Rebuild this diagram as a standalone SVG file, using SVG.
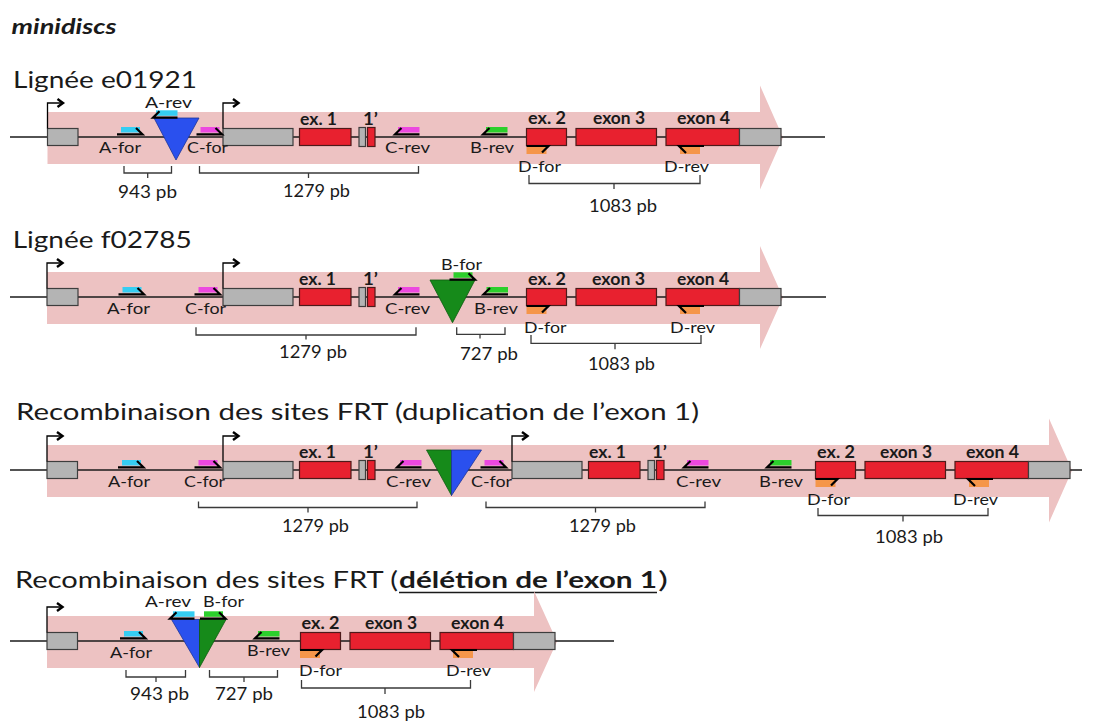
<svg xmlns="http://www.w3.org/2000/svg" xmlns:xlink="http://www.w3.org/1999/xlink" width="1108" height="722" viewBox="0 0 1108 722">
<style>
.bg{fill:#ffffff}
.band{fill:#edc2c2}
.dna{stroke:#1a1a1a;stroke-width:1.3}
.g{fill:#b4b4b4;stroke:#3d3d3d;stroke-width:1.2}
.r{fill:#e8212f;stroke:#4d1a1a;stroke-width:1.2}
.pl{fill:none;stroke:#000;stroke-width:2.2}
.prom{fill:none;stroke:#000;stroke-width:1.3}
.chev{fill:none;stroke:#000;stroke-width:2.4}
.br{fill:none;stroke:#3a3a3a;stroke-width:1.3}
.tb{fill:#2a50ee;stroke:#1d3598;stroke-width:0.8}
.tg{fill:#168a1a;stroke:#0d5a10;stroke-width:0.8}
text{font-family:Lato,"Open Sans","Liberation Sans",sans-serif;fill:#1a1a1a}
.title{font-size:22.5px}
.lab{font-size:15.5px}
.ex{font-size:16.5px;font-weight:bold}
.bp{font-size:16.5px}
.ul{stroke:#1a1a1a;stroke-width:1.6}
</style>
<defs>
<g id="pfu"><rect x="4" y="-10" width="19" height="5.5"/><polyline class="pl" points="0,-2.7 25.5,-2.7 19,-9"/></g>
<g id="pru"><rect x="3" y="-10" width="21.5" height="5.5"/><polyline class="pl" points="6.5,-9 0,-2.7 24.5,-2.7"/></g>
<g id="pfd"><rect x="0" y="10" width="20" height="7"/><polyline class="pl" points="0,9 22,9 15.5,15.5"/></g>
<g id="prd"><rect x="1" y="10" width="20" height="7"/><polyline class="pl" points="7,16 0,9 25,9"/></g>
<g id="prom"><polyline class="prom" points="0,-8.5 0,-34 15,-34"/><polyline class="chev" points="10,-38 15.5,-34 10,-30"/></g>
</defs>
<rect class="bg" x="0" y="0" width="1108" height="722"/>
<text x="11.5" y="34" style="font-size:20.5px;font-weight:bold;font-style:italic" textLength="105" lengthAdjust="spacingAndGlyphs">minidiscs</text>

<!-- Panel 1 -->
<g id="panel1">
<text class="title" x="13" y="88" textLength="184" lengthAdjust="spacingAndGlyphs">Lignée e01921</text>
<polygon class="band" points="47.5,112 760,112 760,85.5 783,137.5 760,189.5 760,164 47.5,164"/>
<line class="dna" x1="10" y1="137" x2="825" y2="137"/>
<g id="p1-genes">
<rect class="g" x="47.5" y="128.5" width="30.5" height="17"/>
<rect class="g" x="223" y="128.5" width="70" height="17"/>
<rect class="r" x="299.5" y="128.5" width="51.5" height="17"/>
<rect class="g" x="359" y="127.5" width="6.5" height="19"/>
<rect class="r" x="367.5" y="127.5" width="7.5" height="19"/>
<rect class="r" x="526.5" y="128.5" width="40" height="17"/>
<rect class="r" x="576" y="128.5" width="80.5" height="17"/>
<rect class="r" x="666" y="128.5" width="73.5" height="17"/>
<rect class="g" x="739.5" y="128.5" width="41.5" height="17"/>
</g>
<g id="p1-prom"><use href="#prom" x="47.5" y="137"/><use href="#prom" x="223" y="137"/></g>
<polygon id="p1-frt" class="tb" points="154,118 199,118 176,160"/>
<g id="p1-primers">
<use href="#pfu" x="117" y="137" fill="#35cdf2"/>
<use href="#pru" x="153" y="120.3" fill="#35cdf2"/>
<use href="#pfu" x="196.5" y="137" fill="#ec48e0"/>
<use href="#pru" x="395" y="137" fill="#ec48e0"/>
<use href="#pru" x="483" y="137" fill="#2ccf2c"/>
<use href="#pfd" x="526.5" y="137" fill="#f5964a"/>
<use href="#prd" x="679" y="137" fill="#f5964a"/>
</g>
<g id="p1-brackets">
<path class="br" d="M124,166 V173 H171.5 V166 M147.7,173 V178"/>
<path class="br" d="M199.5,166 V173 H418.5 V166 M308.5,173 V178"/>
<path class="br" d="M529,175 V183.5 H700 V175 M614,183.5 V189"/>
</g>
<g id="p1-labels">
<text class="lab" x="145" y="107.5" textLength="47" lengthAdjust="spacingAndGlyphs">A-rev</text>
<text class="lab" x="99" y="153" textLength="42" lengthAdjust="spacingAndGlyphs">A-for</text>
<text class="lab" x="187" y="153" textLength="41" lengthAdjust="spacingAndGlyphs">C-for</text>
<text class="ex" x="300" y="125" textLength="37" lengthAdjust="spacingAndGlyphs">ex. 1</text>
<text class="ex" x="363" y="125" textLength="15" lengthAdjust="spacingAndGlyphs">1’</text>
<text class="lab" x="385" y="153" textLength="45" lengthAdjust="spacingAndGlyphs">C-rev</text>
<text class="lab" x="470" y="153" textLength="44" lengthAdjust="spacingAndGlyphs">B-rev</text>
<text class="ex" x="528" y="124" textLength="38" lengthAdjust="spacingAndGlyphs">ex. 2</text>
<text class="ex" x="593" y="124" textLength="52" lengthAdjust="spacingAndGlyphs">exon 3</text>
<text class="ex" x="677" y="124" textLength="53" lengthAdjust="spacingAndGlyphs">exon 4</text>
<text class="lab" x="518" y="171.5" textLength="43" lengthAdjust="spacingAndGlyphs">D-for</text>
<text class="lab" x="664" y="171.5" textLength="45" lengthAdjust="spacingAndGlyphs">D-rev</text>
<text class="bp" x="118" y="198" textLength="59" lengthAdjust="spacingAndGlyphs">943 pb</text>
<text class="bp" x="283" y="197" textLength="67" lengthAdjust="spacingAndGlyphs">1279 pb</text>
<text class="bp" x="589" y="212" textLength="68" lengthAdjust="spacingAndGlyphs">1083 pb</text>
</g>
</g>

<!-- Panel 2 -->
<g id="panel2">
<text class="title" x="12.7" y="248.3" textLength="179" lengthAdjust="spacingAndGlyphs">Lignée f02785</text>
<polygon class="band" points="47,272 760,272 760,246 783,297.5 760,349 760,324 47,324"/>
<line class="dna" x1="10" y1="297" x2="826" y2="297"/>
<g id="p2-genes">
<rect class="g" x="47" y="288.5" width="31" height="17"/>
<rect class="g" x="223" y="288.5" width="70" height="17"/>
<rect class="r" x="299.5" y="288.5" width="51.5" height="17"/>
<rect class="g" x="359" y="287.5" width="6.5" height="19"/>
<rect class="r" x="367.5" y="287.5" width="7.5" height="19"/>
<rect class="r" x="526.5" y="288.5" width="40" height="17"/>
<rect class="r" x="576" y="288.5" width="80.5" height="17"/>
<rect class="r" x="666" y="288.5" width="73.5" height="17"/>
<rect class="g" x="739.5" y="288.5" width="41.5" height="17"/>
</g>
<g id="p2-prom"><use href="#prom" x="47" y="297"/><use href="#prom" x="223" y="297"/></g>
<polygon id="p2-frt" class="tg" points="430,280 475,280 452.5,322.7"/>
<g id="p2-primers">
<use href="#pfu" x="118.5" y="297" fill="#35cdf2"/>
<use href="#pfu" x="194.5" y="297" fill="#ec48e0"/>
<use href="#pru" x="395" y="297" fill="#ec48e0"/>
<use href="#pfu" x="449.5" y="282.3" fill="#2ccf2c"/>
<use href="#pru" x="483.5" y="297" fill="#2ccf2c"/>
<use href="#pfd" x="526.5" y="297" fill="#f5964a"/>
<use href="#prd" x="679" y="297" fill="#f5964a"/>
</g>
<g id="p2-brackets">
<path class="br" d="M196,327.3 V335 H416 V327.3 M306,335 V339.5"/>
<path class="br" d="M456.7,327.3 V334.3 H505 V327.3 M480,334.3 V338.5"/>
<path class="br" d="M531,335 V343.3 H701 V335 M615,343.3 V349.3"/>
</g>
<g id="p2-labels">
<text class="lab" x="107" y="314" textLength="43" lengthAdjust="spacingAndGlyphs">A-for</text>
<text class="lab" x="185" y="314" textLength="41" lengthAdjust="spacingAndGlyphs">C-for</text>
<text class="ex" x="299" y="284.5" textLength="37" lengthAdjust="spacingAndGlyphs">ex. 1</text>
<text class="ex" x="363" y="284.5" textLength="15" lengthAdjust="spacingAndGlyphs">1’</text>
<text class="lab" x="385" y="314" textLength="45" lengthAdjust="spacingAndGlyphs">C-rev</text>
<text class="lab" x="441" y="270" textLength="41" lengthAdjust="spacingAndGlyphs">B-for</text>
<text class="lab" x="474" y="314" textLength="44" lengthAdjust="spacingAndGlyphs">B-rev</text>
<text class="ex" x="528" y="285" textLength="38" lengthAdjust="spacingAndGlyphs">ex. 2</text>
<text class="ex" x="592" y="285" textLength="53" lengthAdjust="spacingAndGlyphs">exon 3</text>
<text class="ex" x="677" y="285" textLength="52" lengthAdjust="spacingAndGlyphs">exon 4</text>
<text class="lab" x="524" y="332.5" textLength="42.5" lengthAdjust="spacingAndGlyphs">D-for</text>
<text class="lab" x="670" y="332.5" textLength="45" lengthAdjust="spacingAndGlyphs">D-rev</text>
<text class="bp" x="279" y="358" textLength="68" lengthAdjust="spacingAndGlyphs">1279 pb</text>
<text class="bp" x="460" y="360" textLength="58" lengthAdjust="spacingAndGlyphs">727 pb</text>
<text class="bp" x="588" y="370" textLength="67" lengthAdjust="spacingAndGlyphs">1083 pb</text>
</g>
</g>

<!-- Panel 3 -->
<g id="panel3">
<text class="title" x="16" y="420" textLength="683" lengthAdjust="spacingAndGlyphs">Recombinaison des sites FRT (duplication de l’exon 1)</text>
<polygon class="band" points="47,445 1049,445 1049,418.5 1072,470.5 1049,522.5 1049,497 47,497"/>
<line class="dna" x1="10" y1="470" x2="1082" y2="470"/>
<g id="p3-genes">
<rect class="g" x="47" y="461.5" width="30.5" height="17"/>
<rect class="g" x="223" y="461.5" width="70" height="17"/>
<rect class="r" x="299.5" y="461.5" width="51.5" height="17"/>
<rect class="g" x="359" y="460.5" width="6.5" height="19"/>
<rect class="r" x="367.5" y="460.5" width="7.5" height="19"/>
<rect class="g" x="512" y="461.5" width="70" height="17"/>
<rect class="r" x="588.5" y="461.5" width="51.5" height="17"/>
<rect class="g" x="648" y="460.5" width="6.5" height="19"/>
<rect class="r" x="656.5" y="460.5" width="7.5" height="19"/>
<rect class="r" x="815.5" y="461.5" width="40" height="17"/>
<rect class="r" x="865" y="461.5" width="80.5" height="17"/>
<rect class="r" x="955" y="461.5" width="73.5" height="17"/>
<rect class="g" x="1028.5" y="461.5" width="41.5" height="17"/>
</g>
<g id="p3-prom"><use href="#prom" x="47" y="470"/><use href="#prom" x="223" y="470"/><use href="#prom" x="512" y="470"/></g>
<g id="p3-frt">
<polygon class="tg" points="426.5,450 451.5,450 451.5,495.5"/>
<polygon class="tb" points="451.5,450 481.5,450 451.5,495.5"/>
</g>
<g id="p3-primers">
<use href="#pfu" x="118" y="470" fill="#35cdf2"/>
<use href="#pfu" x="194.5" y="470" fill="#ec48e0"/>
<use href="#pru" x="397" y="470" fill="#ec48e0"/>
<use href="#pfu" x="480.5" y="470" fill="#ec48e0"/>
<use href="#pru" x="684" y="470" fill="#ec48e0"/>
<use href="#pru" x="767" y="470" fill="#2ccf2c"/>
<use href="#pfd" x="815.5" y="470" fill="#f5964a"/>
<use href="#prd" x="968" y="470" fill="#f5964a"/>
</g>
<g id="p3-brackets">
<path class="br" d="M198.5,501.5 V507.5 H417 V501.5 M308,507.5 V512.5"/>
<path class="br" d="M486,501.5 V507.5 H705 V501.5 M595.5,507.5 V512.5"/>
<path class="br" d="M818,508 V515.5 H988 V508 M903,515.5 V521.5"/>
</g>
<g id="p3-labels">
<text class="lab" x="108" y="486.5" textLength="42" lengthAdjust="spacingAndGlyphs">A-for</text>
<text class="lab" x="184" y="486.5" textLength="41" lengthAdjust="spacingAndGlyphs">C-for</text>
<text class="ex" x="299" y="457.5" textLength="37" lengthAdjust="spacingAndGlyphs">ex. 1</text>
<text class="ex" x="363" y="457.5" textLength="15" lengthAdjust="spacingAndGlyphs">1’</text>
<text class="lab" x="386" y="486.5" textLength="45" lengthAdjust="spacingAndGlyphs">C-rev</text>
<text class="lab" x="471" y="486.5" textLength="41" lengthAdjust="spacingAndGlyphs">C-for</text>
<text class="ex" x="589" y="457.5" textLength="37" lengthAdjust="spacingAndGlyphs">ex. 1</text>
<text class="ex" x="652" y="457.5" textLength="15" lengthAdjust="spacingAndGlyphs">1’</text>
<text class="lab" x="676" y="486.5" textLength="45" lengthAdjust="spacingAndGlyphs">C-rev</text>
<text class="lab" x="759" y="486.5" textLength="44" lengthAdjust="spacingAndGlyphs">B-rev</text>
<text class="ex" x="817" y="457.5" textLength="38" lengthAdjust="spacingAndGlyphs">ex. 2</text>
<text class="ex" x="880" y="457.5" textLength="52" lengthAdjust="spacingAndGlyphs">exon 3</text>
<text class="ex" x="966" y="457.5" textLength="53" lengthAdjust="spacingAndGlyphs">exon 4</text>
<text class="lab" x="807" y="504.5" textLength="43" lengthAdjust="spacingAndGlyphs">D-for</text>
<text class="lab" x="953" y="504.5" textLength="45" lengthAdjust="spacingAndGlyphs">D-rev</text>
<text class="bp" x="282" y="532" textLength="67" lengthAdjust="spacingAndGlyphs">1279 pb</text>
<text class="bp" x="569" y="532" textLength="67" lengthAdjust="spacingAndGlyphs">1279 pb</text>
<text class="bp" x="875" y="543" textLength="68" lengthAdjust="spacingAndGlyphs">1083 pb</text>
</g>
</g>

<!-- Panel 4 -->
<g id="panel4">
<text class="title" x="15" y="588" textLength="383" lengthAdjust="spacingAndGlyphs">Recombinaison des sites FRT (</text>
<text class="title" x="399" y="588" style="font-weight:bold" textLength="258" lengthAdjust="spacingAndGlyphs">délétion de l’exon 1</text>
<text class="title" x="658" y="588" textLength="10" lengthAdjust="spacingAndGlyphs">)</text>
<line class="ul" x1="399" y1="592.5" x2="657" y2="592.5"/>
<polygon class="band" points="47,616 534,616 534,591 557,641.5 534,692 534,668 47,668"/>
<line class="dna" x1="10" y1="641" x2="614" y2="641"/>
<g id="p4-genes">
<rect class="g" x="47" y="632.5" width="30.5" height="17"/>
<rect class="r" x="300.5" y="632.5" width="40" height="17"/>
<rect class="r" x="350" y="632.5" width="80.5" height="17"/>
<rect class="r" x="440" y="632.5" width="73.5" height="17"/>
<rect class="g" x="513.5" y="632.5" width="41.5" height="17"/>
</g>
<g id="p4-prom"><use href="#prom" x="47" y="641"/></g>
<g id="p4-frt">
<polygon class="tb" points="171.5,619.5 199.5,619.5 199.5,667.5"/>
<polygon class="tg" points="199.5,619.5 226,619.5 199.5,667.5"/>
</g>
<g id="p4-primers">
<use href="#pfu" x="120" y="641" fill="#35cdf2"/>
<use href="#pru" x="170" y="621.3" fill="#35cdf2"/>
<use href="#pfu" x="200" y="621.3" fill="#2ccf2c"/>
<use href="#pru" x="255" y="641" fill="#2ccf2c"/>
<use href="#pfd" x="300" y="641" fill="#f5964a"/>
<use href="#prd" x="452" y="641" fill="#f5964a"/>
</g>
<g id="p4-brackets">
<path class="br" d="M126,670 V677 H185.5 V670 M156,677 V682"/>
<path class="br" d="M209.5,670 V677 H277.5 V670 M244,677 V682"/>
<path class="br" d="M301.5,680 V688 H470.5 V680 M385,688 V694"/>
</g>
<g id="p4-labels">
<text class="lab" x="145" y="606.7" textLength="46" lengthAdjust="spacingAndGlyphs">A-rev</text>
<text class="lab" x="203" y="606.7" textLength="41" lengthAdjust="spacingAndGlyphs">B-for</text>
<text class="lab" x="110" y="657.5" textLength="42" lengthAdjust="spacingAndGlyphs">A-for</text>
<text class="lab" x="247" y="656" textLength="43" lengthAdjust="spacingAndGlyphs">B-rev</text>
<text class="ex" x="301.5" y="628.5" textLength="38" lengthAdjust="spacingAndGlyphs">ex. 2</text>
<text class="ex" x="365" y="628.5" textLength="52" lengthAdjust="spacingAndGlyphs">exon 3</text>
<text class="ex" x="451" y="628.5" textLength="53" lengthAdjust="spacingAndGlyphs">exon 4</text>
<text class="lab" x="299" y="675.5" textLength="43" lengthAdjust="spacingAndGlyphs">D-for</text>
<text class="lab" x="446" y="675.5" textLength="45" lengthAdjust="spacingAndGlyphs">D-rev</text>
<text class="bp" x="130" y="700" textLength="59" lengthAdjust="spacingAndGlyphs">943 pb</text>
<text class="bp" x="215" y="700" textLength="58" lengthAdjust="spacingAndGlyphs">727 pb</text>
<text class="bp" x="357" y="718" textLength="68" lengthAdjust="spacingAndGlyphs">1083 pb</text>
</g>
</g>
</svg>
